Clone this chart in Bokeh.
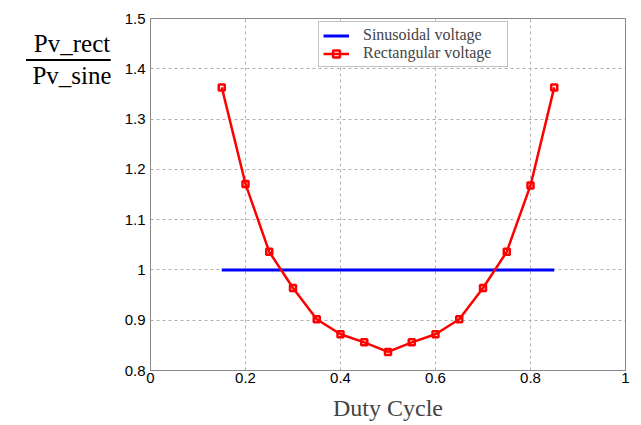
from bokeh.plotting import figure
from bokeh.layouts import row
from bokeh.models import FixedTicker, Legend, LegendItem, Div
from bokeh.embed import file_html
from bokeh.resources import INLINE

duty = [0.15, 0.20, 0.25, 0.30, 0.35, 0.40, 0.45, 0.50, 0.55, 0.60, 0.65, 0.70, 0.75, 0.80, 0.85]
rect_ratio = [1.363, 1.171, 1.036, 0.964, 0.902, 0.872, 0.856, 0.837, 0.856, 0.872, 0.902, 0.964, 1.036, 1.168, 1.363]
sine_x = [0.15, 0.85]
sine_ratio = [1.0, 1.0]
x_ticks = [0, 0.2, 0.4, 0.6, 0.8, 1]
x_labels = ["0", "0.2", "0.4", "0.6", "0.8", "1"]
y_ticks = [0.8, 0.9, 1.0, 1.1, 1.2, 1.3, 1.4, 1.5]
y_labels = ["0.8", "0.9", "1", "1.1", "1.2", "1.3", "1.4", "1.5"]
y_num = "Pv_rect"
y_den = "Pv_sine"

p = figure(width=525, height=425, x_range=(0, 1), y_range=(0.8, 1.5),
           output_backend="svg", toolbar_location=None,
           min_border_left=40, min_border_right=10, min_border_top=18, min_border_bottom=55)
p.outline_line_color = "#888888"
p.background_fill_color = "white"

for ax in (p.xaxis[0], p.yaxis[0]):
    ax.axis_line_color = "#888888"
    ax.major_tick_line_color = None
    ax.minor_tick_line_color = None
    ax.major_tick_out = 0
    ax.major_tick_in = 0
    ax.minor_tick_out = 0
    ax.major_label_text_font = "Liberation Sans"
    ax.major_label_text_font_size = "15px"
    ax.major_label_text_color = "black"

p.xaxis.ticker = FixedTicker(ticks=x_ticks)
p.xaxis.major_label_overrides = {t: l for t, l in zip(x_ticks, x_labels)}
p.yaxis.ticker = FixedTicker(ticks=y_ticks)
p.yaxis.major_label_overrides = {t: l for t, l in zip(y_ticks, y_labels)}
p.xaxis.major_label_standoff = 2
p.yaxis.major_label_standoff = 5
p.xaxis.axis_label = "Duty Cycle"
p.xaxis.axis_label_text_font = "Liberation Serif"
p.xaxis.axis_label_text_font_style = "normal"
p.xaxis.axis_label_text_font_size = "24px"
p.xaxis.axis_label_standoff = 9

p.grid.grid_line_color = "#b0b0b0"
p.grid.grid_line_dash = "3 3"
p.grid.grid_line_width = 1

r_sine = p.line(sine_x, sine_ratio, line_color="#0000ff", line_width=3)
r_rect = p.line(duty, rect_ratio, line_color="#ff0000", line_width=2.5)
r_rect_m = p.scatter(duty, rect_ratio, marker="square", size=6, fill_color=None,
                     line_color="#ff0000", line_width=2.5)

legend = Legend(items=[
    LegendItem(label="Sinusoidal voltage", renderers=[r_sine]),
    LegendItem(label="Rectangular voltage", renderers=[r_rect, r_rect_m]),
], location=(168, 303))
legend.label_text_font = "Liberation Serif"
legend.label_text_font_size = "16px"
legend.label_height = 17
legend.glyph_height = 17
legend.glyph_width = 26
legend.spacing = 0
legend.padding = 4
legend.margin = 0
legend.label_width = 140
legend.border_line_color = "#888888"
legend.label_standoff = 14
p.add_layout(legend, "center")

frac = Div(width=100, height=425, text=(
    '<div style="margin-top:27px;margin-left:21px;width:92px;text-align:center;'
    'font-family:\'Liberation Serif\';font-size:25px;line-height:24px;color:black;">'
    f'<div style="border-bottom:2px solid black;padding-bottom:3px;">{y_num}</div>'
    f'<div style="padding-top:3px;">{y_den}</div></div>'))

layout = row(frac, p, spacing=0)
open("out.html", "w").write(file_html(layout, INLINE))
